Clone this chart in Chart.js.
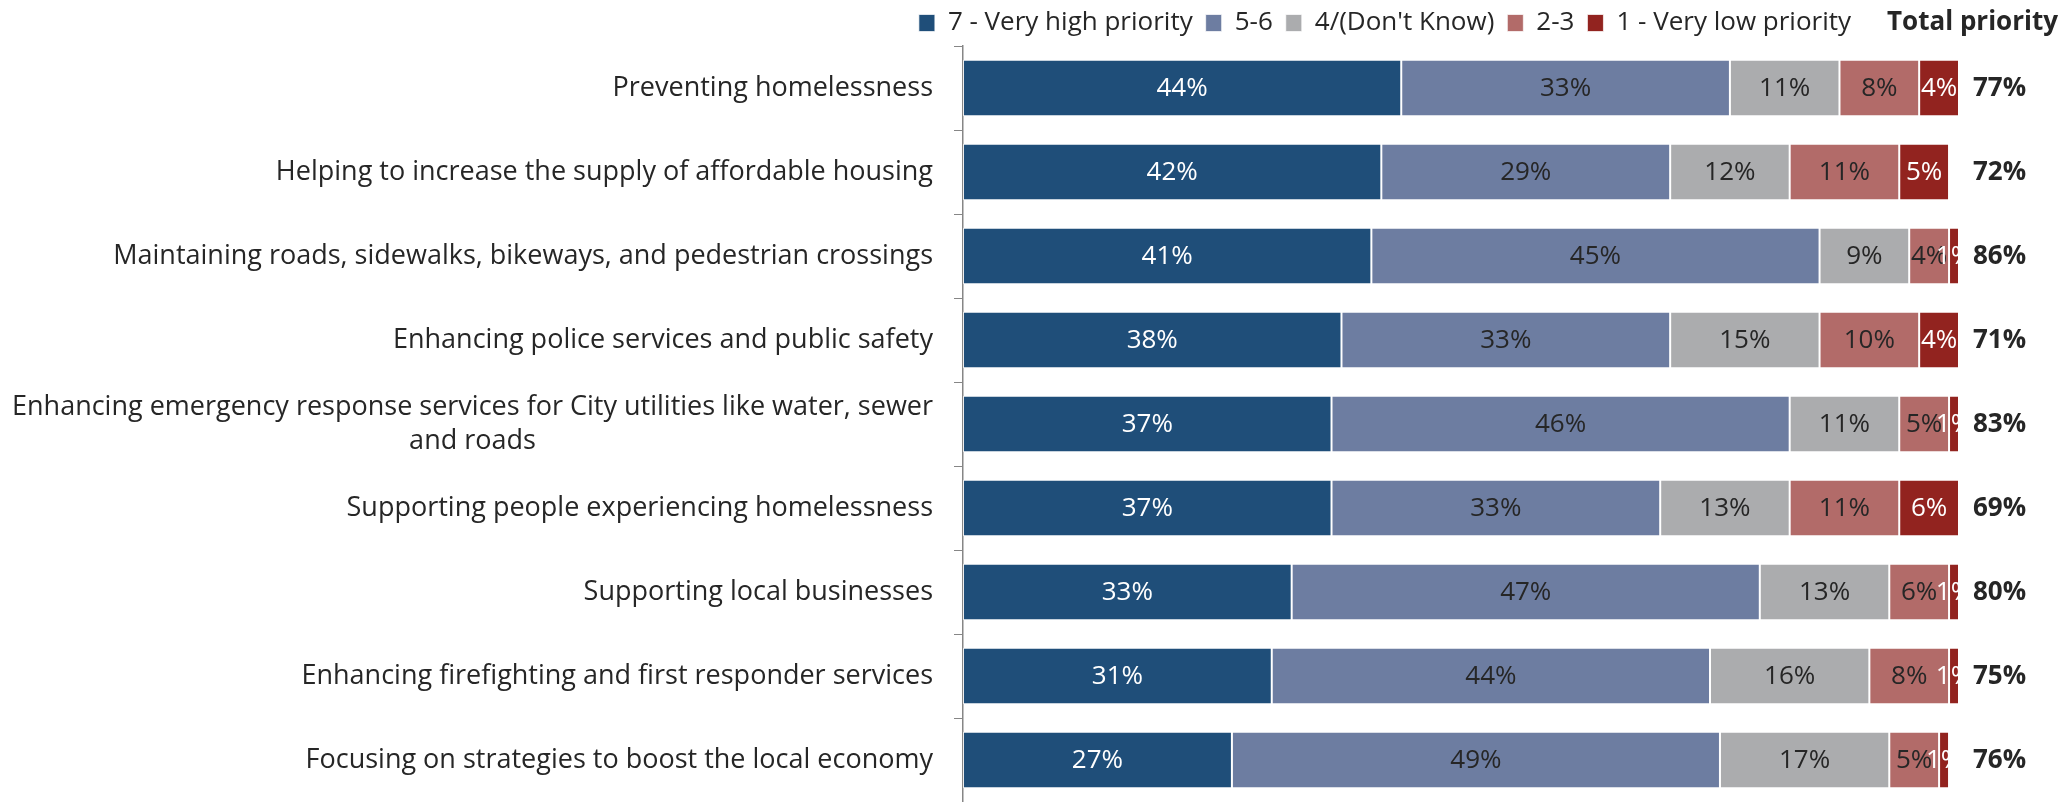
<!DOCTYPE html>
<html>
<head>
<meta charset="utf-8">
<script src="https://cdn.jsdelivr.net/npm/chart.js@4/dist/chart.umd.min.js"></script>
<style>
  body { margin: 0; background: #fff; }
  #wrap { width: 2065px; height: 802px; position: relative; }
</style>
</head>
<body>
<div id="wrap"><canvas id="myChart"></canvas></div>
<script>
// categories (top to bottom)
let categories = [
    'Preventing homelessness',
    'Helping to increase the supply of affordable housing',
    'Maintaining roads, sidewalks, bikeways, and pedestrian crossings',
    'Enhancing police services and public safety',
    ['Enhancing emergency response services for City utilities like water, sewer', 'and roads'],
    'Supporting people experiencing homelessness',
    'Supporting local businesses',
    'Enhancing firefighting and first responder services',
    'Focusing on strategies to boost the local economy'
];

let seriesNames = ['7 - Very high priority', '5-6', '4/(Don\'t Know)', '2-3', '1 - Very low priority'];

let veryHigh = [44, 42, 41, 38, 37, 37, 33, 31, 27];
let high = [33, 29, 45, 33, 46, 33, 47, 44, 49];
let dontKnow = [11, 12, 9, 15, 11, 13, 13, 16, 17];
let low = [8, 11, 4, 10, 5, 11, 6, 8, 5];
let veryLow = [4, 5, 1, 4, 1, 6, 1, 1, 1];

let totalPriority = [77, 72, 86, 71, 83, 69, 80, 75, 76];

let colors = ['#1F4E79', '#6D7DA1', '#ABACAE', '#B26B69', '#92231F'];
let labelColors = ['#ffffff', '#262626', '#262626', '#262626', '#ffffff'];

let FONT = '"Open Sans", sans-serif';
let FONT_SIZE = 27;

// draws the category labels, data labels and the total column
let labelsPlugin = {
    id: 'labelsPlugin',
    beforeDraw: (chart) => {
        // move the legend so it ends before the "Total priority" header
        let legend = chart.legend;
        if (legend) {
            legend.right = 1864;
        }
    },
    afterDatasetsDraw: (chart) => {
        let ctx = chart.ctx;
        let yScale = chart.scales.y;
        let area = chart.chartArea;
        ctx.save();

        // category labels
        ctx.font = FONT_SIZE + 'px ' + FONT;
        ctx.fillStyle = '#262626';
        ctx.textBaseline = 'middle';
        ctx.textAlign = 'center';
        categories.forEach((cat, i) => {
            let lines = Array.isArray(cat) ? cat : [cat];
            let maxW = Math.max(...lines.map(l => ctx.measureText(l).width));
            let cx = area.left - 30 - maxW / 2;
            let y = yScale.getPixelForValue(i);
            let lh = 34;
            lines.forEach((l, j) => {
                ctx.fillText(l, cx, y + (j - (lines.length - 1) / 2) * lh);
            });
        });

        // data labels
        ctx.font = '26px ' + FONT;
        chart.data.datasets.forEach((ds, di) => {
            let meta = chart.getDatasetMeta(di);
            ctx.fillStyle = labelColors[di];
            meta.data.forEach((bar, i) => {
                let x = (bar.x + bar.base) / 2;
                ctx.fillText(ds.data[i] + '%', x, bar.y + 1);
            });
        });

        // total priority column
        ctx.font = 'bold 26px ' + FONT;
        ctx.fillStyle = '#262626';
        ctx.textAlign = 'left';
        totalPriority.forEach((t, i) => {
            ctx.fillText(t + '%', area.right + 14, yScale.getPixelForValue(i) + 1);
        });
        ctx.textAlign = 'right';
        ctx.fillText('Total priority', 2058, 23);

        ctx.restore();
    }
};

let allSeries = [veryHigh, high, dontKnow, low, veryLow];

new Chart(document.getElementById('myChart'), {
    type: 'bar',
    data: {
        labels: categories,
        datasets: allSeries.map((vals, i) => ({
            label: seriesNames[i],
            data: vals,
            backgroundColor: colors[i],
            borderColor: 'rgba(255,255,255,0.7)',
            borderWidth: 1,
            borderSkipped: false,
            categoryPercentage: 1,
            barPercentage: 0.67
        }))
    },
    options: {
        indexAxis: 'y',
        responsive: true,
        maintainAspectRatio: false,
        animation: false,
        layout: {
            padding: {top: -3, right: 106, bottom: 0, left: 0}
        },
        plugins: {
            tooltip: {enabled: false},
            legend: {
                position: 'top',
                align: 'end',
                labels: {
                    font: {family: FONT, size: 26},
                    color: '#262626',
                    boxWidth: 16,
                    boxHeight: 17,
                    padding: 13
                }
            }
        },
        scales: {
            x: {
                stacked: true,
                display: false,
                min: 0,
                max: 100
            },
            y: {
                stacked: true,
                afterFit: (scale) => {
                    scale.width = 963;
                },
                ticks: {display: false},
                grid: {
                    offset: true,
                    drawOnChartArea: false,
                    drawTicks: true,
                    tickLength: 9,
                    color: '#868686'
                },
                border: {color: '#868686', width: 1.5}
            }
        }
    },
    plugins: [labelsPlugin]
});
</script>
</body>
</html>
